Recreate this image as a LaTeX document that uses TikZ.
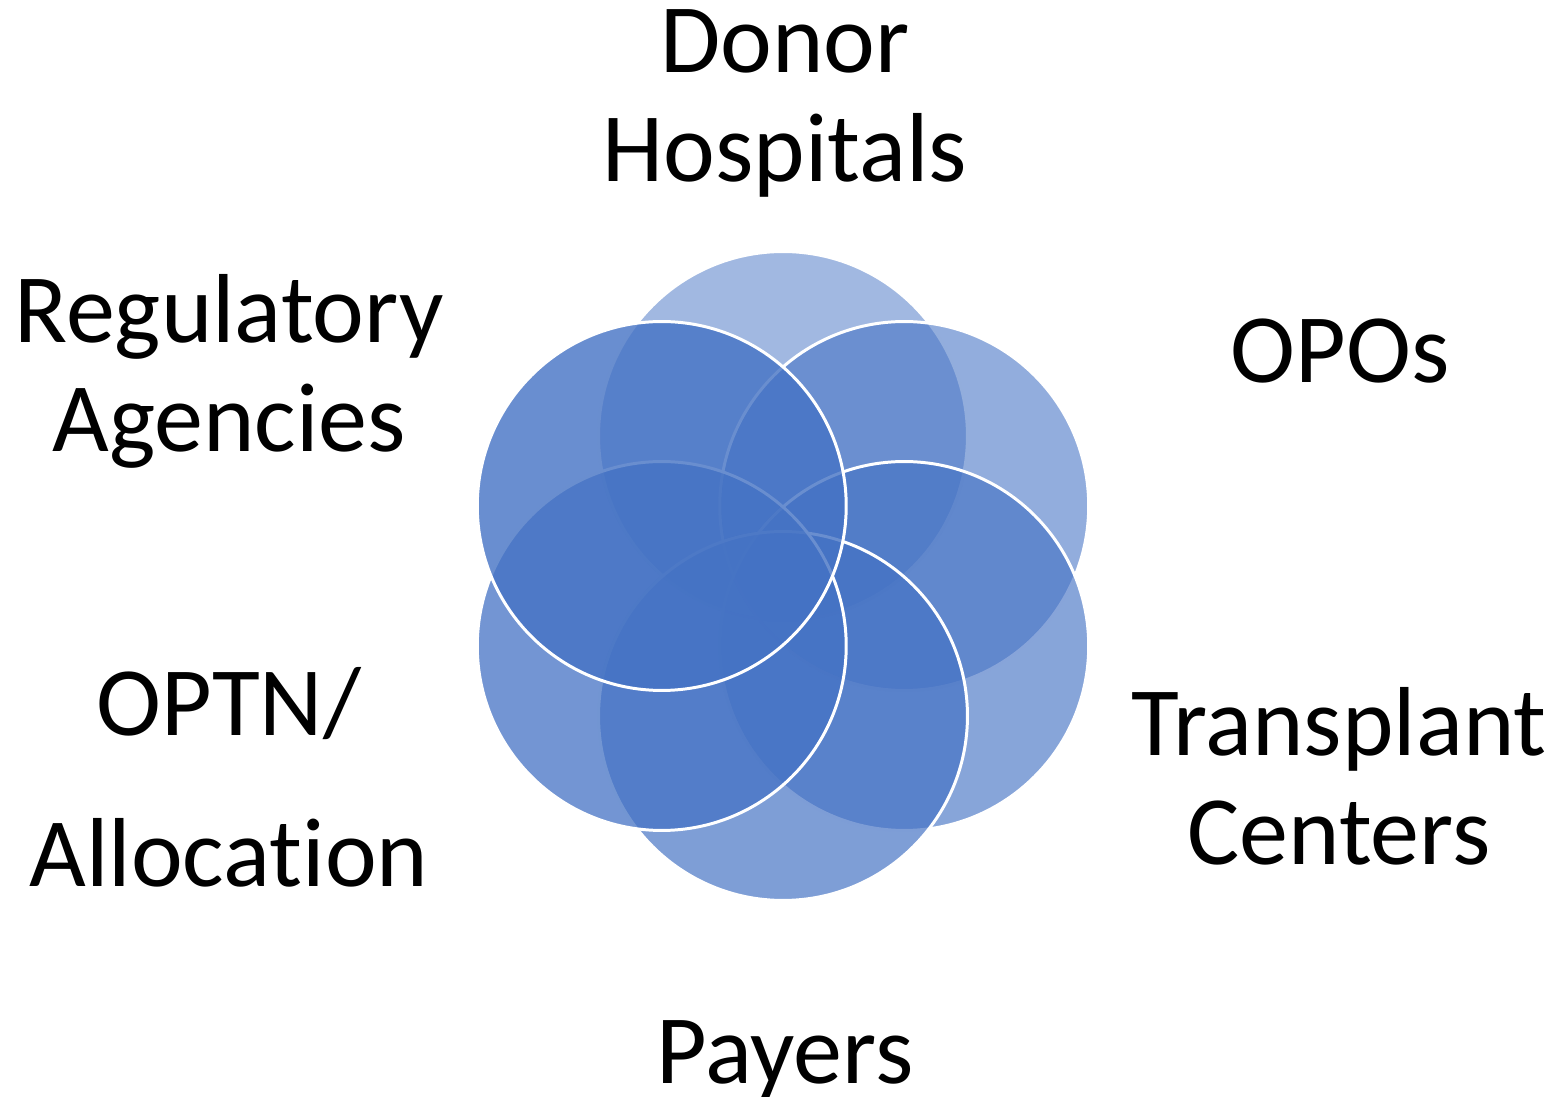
\documentclass[tikz,border=0pt]{standalone}
\usepackage{fontspec}
\setmainfont{Carlito}[Ligatures = NoCommon]
\usepackage{tikz}
\usetikzlibrary{positioning}
\definecolor{vennblue}{HTML}{4472C4}

\begin{document}
\begin{tikzpicture} [x = 0.02cm, y = 0.02cm,
    ring/.style = {circle, draw = white, line width = 1.7pt, fill = vennblue,
                   minimum size = 7.38cm, inner sep = 0pt},
    lbl/.style = {align = center, anchor = base, inner sep = 0pt,
                  font = \fontsize{55.8}{62.6}\selectfont}]
\useasboundingbox (-783,-521) rectangle (774,576);
% six overlapping rings, clockwise from the top
\foreach \ang/\op [count=\i] in {90/0.5, 30/0.58, -30/0.64, -90/0.69, -150/0.75, 150/0.8}
    \node (c\i) [ring, fill opacity = \op] at (\ang:140) {};
% labels round the rings (base = last line)
\node (l1) [lbl] at (2,394) {Donor\\Hospitals};
\node (l2) [lbl] at (557,193) {OPOs};
\node (l3) [lbl] at (556,-289) {Transplant\\Centers};
\node (l4) [lbl] at (2,-507) {Payers};
\node (l5) [lbl] at (-554,-311) {OPTN/\\[23.9pt]Allocation};
\node (l6) [lbl] at (-554,124) {Regulatory\\Agencies};
\end{tikzpicture}
\end{document}
